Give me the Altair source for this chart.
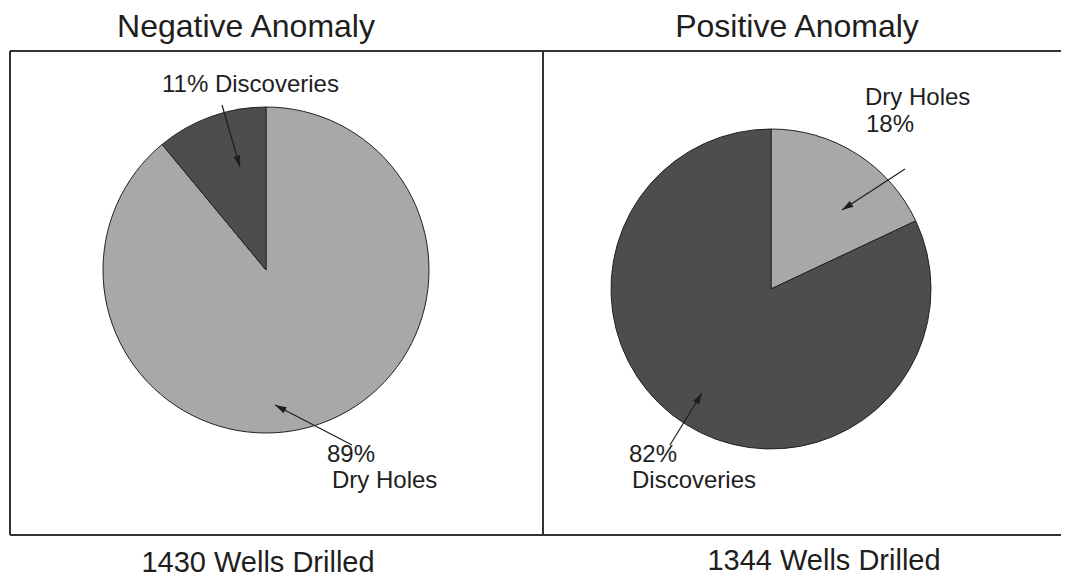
import math
import altair as alt
import pandas as pd

# ---- data ----
panels = ["Negative Anomaly", "Positive Anomaly"]
wells_drilled = [1430, 1344]
categories = ["Dry Holes", "Discoveries"]
negative_pct = [89, 11]
positive_pct = [18, 82]

# ---- styling / layout (page pixel coordinates) ----
slice_colors = ["#a8a8a8", "#4d4d4d"]
pie_centers = [(266, 270), (771, 289)]
pie_radius = [163, 160]
title_pos = [(246, 37), (797, 37)]
wells_pos = [(258, 572), (824, 570)]
# label lines: (panel, category, line kind, x, y baseline)
label_layout = [
    (0, 1, "both", 162, 92),
    (0, 0, "pct", 327, 462),
    (0, 0, "name", 332, 488),
    (1, 0, "name", 865, 105),
    (1, 0, "pct", 866, 132),
    (1, 1, "pct", 629, 462),
    (1, 1, "name", 632, 488),
]
arrows = [
    (222, 105, 240, 167),
    (352, 445, 275, 405),
    (905, 169, 842, 210),
    (670, 445, 702, 393),
]
box_lines = [
    (10, 51, 543, 51), (10, 535, 543, 535), (10, 51, 10, 535), (543, 51, 543, 535),
    (543, 51, 1061, 51), (543, 535, 1061, 535),
]

FONT = "Liberation Sans"
W, H = 1053, 570
xs = alt.Scale(domain=[8, 8 + W])
ys = alt.Scale(domain=[8, 8 + H], reverse=True)

pct_by_panel = [negative_pct, positive_pct]

pie_rows = []
for p, pcts in enumerate(pct_by_panel):
    for i, (c, v) in enumerate(zip(categories, pcts)):
        pie_rows.append({"panel": p, "category": c, "value": v, "ord": i})
pie_df = pd.DataFrame(pie_rows)

color_scale = alt.Scale(domain=categories, range=slice_colors)

pies = []
for p in range(2):
    cx, cy = pie_centers[p]
    pies.append(
        alt.Chart(pie_df)
        .transform_filter(alt.datum.panel == p)
        .mark_arc(radius=pie_radius[p], stroke="#222222", strokeWidth=1)
        .encode(
            theta=alt.Theta("value:Q", stack=True, scale=alt.Scale(domain=[0, 100])),
            color=alt.Color("category:N", scale=color_scale, legend=None),
            order=alt.Order("ord:Q"),
            x=alt.value(cx - 8),
            y=alt.value(cy - 8),
        )
    )

# text rows
text_rows = []
for p in range(2):
    text_rows.append({"t": panels[p], "x": title_pos[p][0], "y": title_pos[p][1], "s": 32, "a": "center"})
    text_rows.append({"t": f"{wells_drilled[p]} Wells Drilled", "x": wells_pos[p][0], "y": wells_pos[p][1], "s": 29, "a": "center"})
for p, c, kind, x, y in label_layout:
    pct = pct_by_panel[p][c]
    name = categories[c]
    if kind == "both":
        t = f"{pct}% {name}"
    elif kind == "pct":
        t = f"{pct}%"
    else:
        t = name
    text_rows.append({"t": t, "x": x, "y": y, "s": 24, "a": "left"})
text_df = pd.DataFrame(text_rows)

texts = []
for align in ["center", "left"]:
    texts.append(
        alt.Chart(text_df)
        .transform_filter(alt.datum.a == align)
        .mark_text(align=align, baseline="alphabetic", font=FONT, color="#1e1e1e")
        .encode(
            x=alt.X("x:Q", scale=xs, axis=None),
            y=alt.Y("y:Q", scale=ys, axis=None),
            text="t:N",
            size=alt.Size("s:Q", scale=None, legend=None),
        )
    )

box_df = pd.DataFrame(box_lines, columns=["x", "y", "x2", "y2"])
boxes = alt.Chart(box_df).mark_rule(color="#333333", strokeWidth=2).encode(
    x=alt.X("x:Q", scale=xs, axis=None),
    y=alt.Y("y:Q", scale=ys, axis=None),
    x2="x2:Q",
    y2="y2:Q",
)

arr_rows = []
for x1, y1, x2, y2 in arrows:
    ang = math.degrees(math.atan2(x2 - x1, -(y2 - y1))) % 360
    arr_rows.append({"x": x1, "y": y1, "x2": x2, "y2": y2, "ang": ang})
arr_df = pd.DataFrame(arr_rows)

arrow_lines = alt.Chart(arr_df).mark_rule(color="#1e1e1e", strokeWidth=1.2).encode(
    x=alt.X("x:Q", scale=xs, axis=None),
    y=alt.Y("y:Q", scale=ys, axis=None),
    x2="x2:Q",
    y2="y2:Q",
)
arrow_heads = alt.Chart(arr_df).mark_point(
    shape="M0,0 L0.6,2 L-0.6,2 Z", filled=True, color="#1e1e1e", size=130, opacity=1
).encode(
    x=alt.X("x2:Q", scale=xs, axis=None),
    y=alt.Y("y2:Q", scale=ys, axis=None),
    angle=alt.Angle("ang:Q", scale=None),
)

chart = (
    alt.layer(boxes, *pies, arrow_lines, arrow_heads, *texts)
    .resolve_scale(theta="independent")
    .properties(width=W, height=H, padding=0, autosize="none", background="white")
    .configure_view(stroke=None)
)

chart.save("out.html", embed_options={"renderer": "svg", "actions": False})
